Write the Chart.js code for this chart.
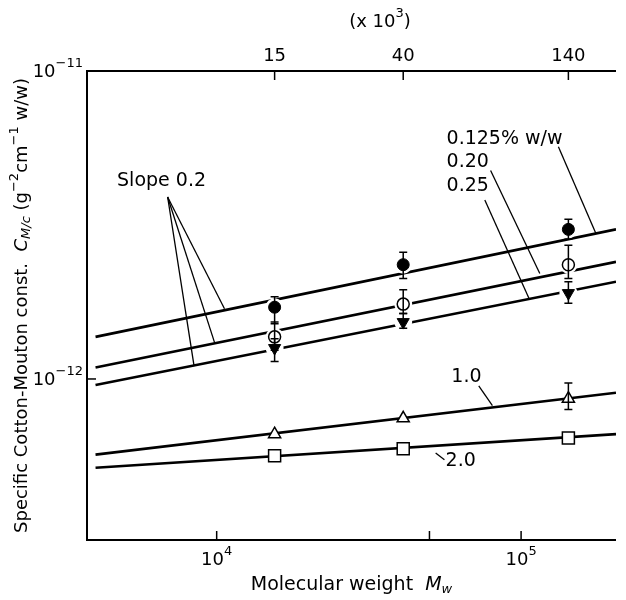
<!DOCTYPE html>
<html>
<head>
<meta charset="utf-8">
<script src="https://cdn.jsdelivr.net/npm/chart.js@4.4.0/dist/chart.umd.min.js"></script>
<style>
html, body { margin: 0; padding: 0; background: #fff; }
</style>
</head>
<body>
<canvas id="myChart" width="626" height="600"></canvas>
<script>
// Eixos
const pesoMolecular = [15500, 41000, 143000];
const ticksTopo = [15500, 41000, 143000];
const rotulosTopo = ['15', '40', '140'];
const ticksBaixo = [10000, 50000, 100000];
const rotulosBaixo = ['4', '', '5'];
const ticksEsquerda = [1e-11, 1e-12];
const rotulosEsquerda = ['−11', '−12'];

// Pontos (C M/c) por concentração
const c0125 = [1.71e-12, 2.35e-12, 3.06e-12];
const c020 = [1.37e-12, 1.75e-12, 2.35e-12];
const c025 = [1.26e-12, 1.53e-12, 1.90e-12];
const c10 = [6.62e-13, 7.45e-13, 8.63e-13];
const c20 = [5.63e-13, 5.93e-13, 6.43e-13];

// Barras de erro
const erro0125Min = [1.51e-12, 2.12e-12, 2.84e-12];
const erro0125Max = [1.85e-12, 2.58e-12, 3.30e-12];
const erro020Min = [1.24e-12, 1.63e-12, 2.12e-12];
const erro020Max = [1.53e-12, 1.95e-12, 2.72e-12];
const erro025Min = [1.14e-12, 1.46e-12, 1.76e-12];
const erro025Max = [1.35e-12, 1.63e-12, 2.07e-12];
const erro10Min = [null, null, 7.96e-13];
const erro10Max = [null, null, 9.71e-13];

// Retas (pontas)
const retaX = [4000, 205000];
const reta0125 = [1.37e-12, 3.06e-12];
const reta020 = [1.09e-12, 2.40e-12];
const reta025 = [9.56e-13, 2.07e-12];
const reta10 = [5.68e-13, 9.02e-13];
const reta20 = [5.15e-13, 6.62e-13];

const fonteN = '19px "DejaVu Sans"';
const fonteT = '18px "DejaVu Sans"';
const fonteP = '13px "DejaVu Sans"';
const fonteI = 'italic 19px "DejaVu Sans"';
const fonteIT = 'italic 18px "DejaVu Sans"';
const fonteIP = 'italic 13px "DejaVu Sans"';

function pontos(xs, ys) { return xs.map((x, i) => ({ x: x, y: ys[i] })); }

function textoRico(c, partes, x, y, alinhar) {
    let largura = 0;
    partes.forEach(p => { c.font = p.f; largura += c.measureText(p.t).width; });
    let px = x;
    if (alinhar == 'center') px = x - largura / 2;
    if (alinhar == 'right') px = x - largura;
    c.textAlign = 'left';
    c.textBaseline = 'middle';
    partes.forEach(p => {
        c.font = p.f;
        c.fillText(p.t, px, y + (p.dy || 0));
        px += c.measureText(p.t).width;
    });
}

// anotacoes em coordenadas do grafico
const textos = [
    { t: 'Slope 0.2', x: 6590, y: 4.39e-12, a: 'center' },
    { t: '0.125% w/w', x: 56900, y: 6.03e-12, a: 'left' },
    { t: '0.20', x: 56900, y: 5.08e-12, a: 'left' },
    { t: '0.25', x: 56900, y: 4.23e-12, a: 'left' },
    { t: '1.0', x: 59000, y: 1.015e-12, a: 'left' },
    { t: '2.0', x: 56500, y: 5.40e-13, a: 'left' }
];
const guias = [
    [6900, 3.90e-12, 10610, 1.69e-12],
    [6900, 3.90e-12, 9850, 1.31e-12],
    [6900, 3.90e-12, 8430, 1.10e-12],
    [132600, 5.68e-12, 175800, 2.98e-12],
    [79400, 4.75e-12, 115200, 2.20e-12],
    [76000, 3.81e-12, 106100, 1.83e-12],
    [72600, 9.50e-13, 80500, 8.20e-13],
    [52400, 5.75e-13, 56000, 5.47e-13]
];

const errosPlugin = {
    id: 'erros',
    afterDatasetsDraw(chart) {
        const c = chart.ctx, sx = chart.scales.x, sy = chart.scales.y;
        const grupos = [[erro0125Min, erro0125Max], [erro020Min, erro020Max], [erro025Min, erro025Max], [erro10Min, erro10Max]];
        c.save();
        c.strokeStyle = '#000';
        c.lineWidth = 1.5;
        grupos.forEach(g => {
            for (let i = 0; i < pesoMolecular.length; i++) {
                if (g[0][i] == null) continue;
                const x = sx.getPixelForValue(pesoMolecular[i]);
                const y1 = sy.getPixelForValue(g[0][i]);
                const y2 = sy.getPixelForValue(g[1][i]);
                c.beginPath();
                c.moveTo(x, y1); c.lineTo(x, y2);
                c.moveTo(x - 4, y1); c.lineTo(x + 4, y1);
                c.moveTo(x - 4, y2); c.lineTo(x + 4, y2);
                c.stroke();
            }
        });
        c.restore();
    }
};

const eixosPlugin = {
    id: 'eixos',
    afterDraw(chart) {
        const c = chart.ctx, a = chart.chartArea, sx = chart.scales.x, sy = chart.scales.y;
        c.save();
        c.strokeStyle = '#000';
        c.fillStyle = '#000';
        c.lineWidth = 2;
        c.beginPath();
        c.moveTo(a.right, a.top); c.lineTo(a.left, a.top);
        c.lineTo(a.left, a.bottom); c.lineTo(a.right, a.bottom);
        c.stroke();

        c.lineWidth = 1.5;
        ticksBaixo.forEach((v, i) => {
            const x = sx.getPixelForValue(v);
            c.beginPath(); c.moveTo(x, a.bottom); c.lineTo(x, a.bottom - 9); c.stroke();
            if (rotulosBaixo[i]) {
                textoRico(c, [{ t: '10', f: fonteT }, { t: rotulosBaixo[i], f: fonteP, dy: -8 }], x, a.bottom + 20, 'center');
            }
        });
        ticksTopo.forEach((v, i) => {
            const x = sx.getPixelForValue(v);
            c.beginPath(); c.moveTo(x, a.top); c.lineTo(x, a.top + 9); c.stroke();
            textoRico(c, [{ t: rotulosTopo[i], f: fonteT }], x, a.top - 15, 'center');
        });
        ticksEsquerda.forEach((v, i) => {
            const y = sy.getPixelForValue(v);
            c.beginPath(); c.moveTo(a.left, y); c.lineTo(a.left + 9, y); c.stroke();
            textoRico(c, [{ t: '10', f: fonteT }, { t: rotulosEsquerda[i], f: fonteP, dy: -8 }], a.left - 4, y + 1, 'right');
        });

        // titulos dos eixos
        textoRico(c, [{ t: '(x 10', f: fonteT }, { t: '3', f: fonteP, dy: -8 }, { t: ')', f: fonteT }], 380, 22, 'center');
        textoRico(c, [{ t: 'Molecular weight  ', f: fonteN }, { t: 'M', f: fonteI }, { t: 'w', f: fonteIP, dy: 5 }],
            (a.left + a.right) / 2, 585, 'center');
        c.save();
        c.translate(22, (a.top + a.bottom) / 2);
        c.rotate(-Math.PI / 2);
        textoRico(c, [
            { t: 'Specific Cotton-Mouton const.  ', f: fonteT },
            { t: 'C', f: fonteIT },
            { t: 'M/c', f: fonteIP, dy: 5 },
            { t: ' (g', f: fonteT },
            { t: '−2', f: fonteP, dy: -7 },
            { t: 'cm', f: fonteT },
            { t: '−1', f: fonteP, dy: -7 },
            { t: ' w/w)', f: fonteT }
        ], 0, 0, 'center');
        c.restore();

        // anotacoes
        c.lineWidth = 1.3;
        guias.forEach(g => {
            c.beginPath();
            c.moveTo(sx.getPixelForValue(g[0]), sy.getPixelForValue(g[1]));
            c.lineTo(sx.getPixelForValue(g[2]), sy.getPixelForValue(g[3]));
            c.stroke();
        });
        textos.forEach(t => {
            textoRico(c, [{ t: t.t, f: fonteN }], sx.getPixelForValue(t.x), sy.getPixelForValue(t.y), t.a);
        });
        c.restore();
    }
};

function reta(ys) {
    return { data: pontos(retaX, ys), showLine: true, borderColor: '#000', borderWidth: 2.6, pointRadius: 0, order: 3 };
}
function halo(ys) {
    return { data: pontos(pesoMolecular, ys), pointRadius: 9, pointBackgroundColor: '#fff', pointBorderWidth: 0, pointBorderColor: '#fff', order: 2 };
}

const ctx = document.getElementById('myChart');

new Chart(ctx, {
    type: 'scatter',
    data: {
        datasets: [
            reta(reta0125), reta(reta020), reta(reta025), reta(reta10), reta(reta20),
            halo(c0125), halo(c020), halo(c025),
            { label: '0.125% w/w', data: pontos(pesoMolecular, c0125), pointStyle: 'circle', pointRadius: 6,
              pointBackgroundColor: '#000', pointBorderColor: '#000', pointBorderWidth: 1, order: 1 },
            { label: '0.20', data: pontos(pesoMolecular, c020), pointStyle: 'circle', pointRadius: 6,
              pointBackgroundColor: '#fff', pointBorderColor: '#000', pointBorderWidth: 1.5, order: 1 },
            { label: '0.25', data: pontos(pesoMolecular, c025), pointStyle: 'triangle', pointRotation: 180, pointRadius: 7,
              pointBackgroundColor: '#000', pointBorderColor: '#000', pointBorderWidth: 1, order: 1 },
            { label: '1.0', data: pontos(pesoMolecular, c10), pointStyle: 'triangle', pointRadius: 7,
              pointBackgroundColor: '#fff', pointBorderColor: '#000', pointBorderWidth: 1.5, order: 1 },
            { label: '2.0', data: pontos(pesoMolecular, c20), pointStyle: 'rect', pointRadius: 8.5,
              pointBackgroundColor: '#fff', pointBorderColor: '#000', pointBorderWidth: 1.5, order: 1 }
        ]
    },
    options: {
        responsive: false,
        animation: false,
        devicePixelRatio: 1,
        layout: { padding: { left: 87, top: 71, right: 0, bottom: 60 } },
        plugins: { legend: { display: false }, tooltip: { enabled: false } },
        scales: {
            x: { type: 'logarithmic', min: 3750, max: 205000, display: false },
            y: { type: 'logarithmic', min: 3.18e-13, max: 1e-11, display: false }
        }
    },
    plugins: [errosPlugin, eixosPlugin]
});
</script>
</body>
</html>
